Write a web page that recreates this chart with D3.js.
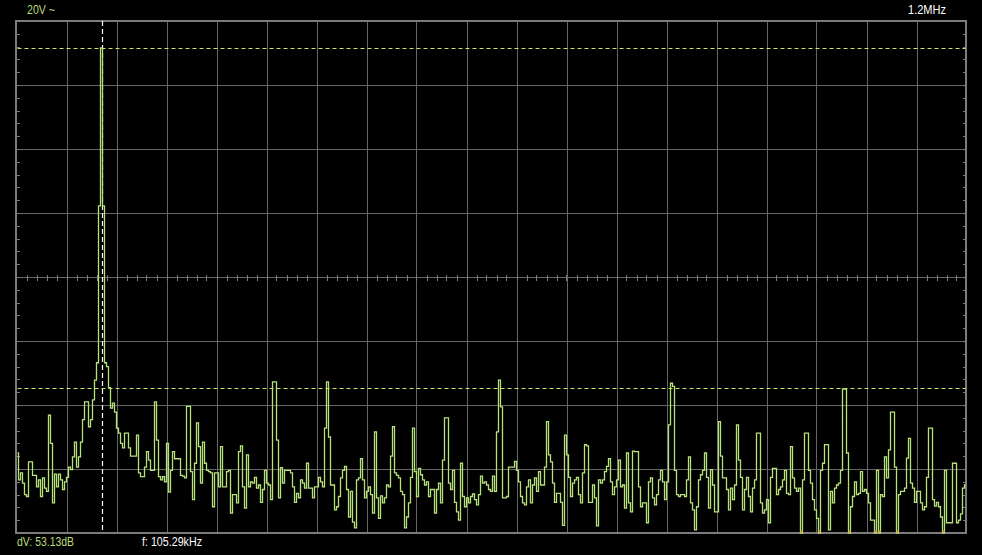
<html>
<head>
<script src="https://d3js.org/d3.v7.min.js"></script>
<style>
  body { margin: 0; background: #000; }
  .grid { stroke: #666666; stroke-width: 1; shape-rendering: crispEdges; }
  .frame { fill: none; stroke: #7c7c7c; stroke-width: 2; shape-rendering: crispEdges; }
  .tick { stroke: #7c7c7c; stroke-width: 1; shape-rendering: crispEdges; }
  .lbl { font-family: "Liberation Sans", Arial, sans-serif; font-size: 12.5px; }
</style>
</head>
<body>
<svg id="scope" width="982" height="555" style="background:#000"></svg>
<script>
// FFT view, 10 dB/div, 0..-80 dB, 19 horizontal divisions
const spanKHz = 1163.2;
const dbTop = 0, dbBottom = -80;
const peakDb = -4.2;
const deltaDb = 53.13;
const cursorFreq = 105.29;
const labels = { range: "20V ~", span: "1.2MHz", dv: "dV: 53.13dB", f: "f: 105.29kHz" };

// magnitude per bin (dB)
const spectrum = [
  -67.5,-71.7,-70.6,-72.2,-74,-74.3,-68.9,-68.9,-71,-71,-72.8,-71.7,-74.3,-71.4,-73,-73.5,-61.6,-66,-75.3,-70.8,
  -72.8,-70.8,-71.7,-73.2,-72,-71.3,-69.7,-70.1,-68.1,-65.8,-69.7,-68.1,-65.8,-62.3,-59.5,-59.5,-63.4,-62.3,-59.2,-56.1,
  -53.4,-28.9,-4.2,-28.9,-53.4,-54,-57.3,-60.5,-59.7,-61.1,-63.6,-64.4,-66,-66.7,-64.4,-64.4,-66.7,-68,-68,-68,
  -64.7,-70.6,-71.2,-71.2,-69.7,-67.3,-68.6,-70.2,-70.2,-59.5,-65.5,-71.2,-71.7,-71.2,-72,-66,-73.6,-70.2,-67.3,-68.4,
  -68.4,-68.4,-71,-71.1,-71.4,-60.2,-60.2,-70.4,-74.8,-69.1,-62.8,-66.5,-72.2,-65.8,-69.1,-70.2,-70.4,-70.6,-75.9,-70.6,
  -70.6,-72.8,-66.5,-72.8,-72.8,-70.4,-70.2,-76.9,-74,-74,-75.3,-67.3,-66.4,-72.8,-76.1,-67.8,-72.8,-72,-72.2,-71.3,
  -73,-72.5,-75.2,-73.2,-70.2,-72.2,-72.5,-74.8,-56.4,-56.4,-65.5,-74.5,-69.8,-72.2,-70.2,-70.2,-70.2,-70.6,-72.8,-75.2,
  -73.8,-74.5,-71.7,-72.2,-73,-69.1,-73,-73,-74.5,-72.8,-72.8,-71.3,-72,-72.8,-63.6,-56.4,-65,-72.5,-72.5,-76.4,
  -75.9,-74.3,-71.4,-70.2,-69.6,-73.2,-77.5,-73.5,-78.3,-79.2,-71.7,-71.4,-68.4,-71.7,-74.5,-73.5,-72.8,-74,-76.9,-64.2,
  -74.5,-77.7,-74.2,-75.3,-74.5,-72.5,-72.8,-68,-63.4,-70.6,-71,-71.4,-73.5,-74,-79.2,-77.5,-75.3,-71.3,-63.6,-70.4,
  -74.3,-69.9,-70.9,-71.7,-72.5,-72,-74.3,-73.2,-73.2,-76.9,-73.2,-72.2,-75.3,-68.6,-62,-62,-72.2,-73.2,-70.2,-75.2,
  -76.7,-78,-69.1,-74.3,-75.9,-74.5,-75.3,-74.3,-73.9,-74.8,-75.6,-74,-71.1,-72.2,-72,-72.5,-73.2,-73.5,-71.1,-73.5,
  -64.2,-56.1,-60.3,-74.5,-74.5,-74.3,-69.7,-69.7,-69.7,-68.8,-70.2,-72,-74.3,-75.3,-75.6,-72.8,-71.7,-75.3,-72.5,-71.4,
  -73.5,-70.4,-72.5,-72.5,-69.7,-62.6,-67.8,-68.9,-72.2,-75.2,-73.8,-73.8,-75.2,-78.8,-64.7,-67.8,-71.3,-74.3,-72.2,-71.7,
  -71.3,-74,-75.3,-70.6,-66.2,-66.4,-75.2,-75.2,-72.5,-74.5,-78.9,-71.7,-72.2,-71.7,-70.4,-69.6,-68.4,-72,-74,-72.8,
  -71.7,-68.6,-72.8,-72.5,-76.1,-67.5,-75.3,-76.7,-67.2,-67.3,-67.3,-72.8,-75.9,-75.3,-75.3,-78.4,-72,-71.4,-74.5,-75.6,
  -74,-71.7,-70.2,-72,-74.8,-72,-63.1,-56.6,-57.1,-70.2,-74,-74.3,-74,-74,-74.3,-71.7,-68.1,-75.3,-76.4,-79.5,
  -75.9,-71.7,-70.9,-70.2,-67.5,-71.3,-76.1,-70.1,-72.5,-76.7,-76.7,-62.6,-68,-71.4,-71.4,-73.2,-76.4,-73,-74.8,-72.5,
  -63.1,-68.6,-71.3,-76.4,-73.2,-71.3,-74.3,-76.7,-73,-71.7,-64.4,-64.4,-75.3,-76.9,-76.4,-74.8,-78.4,-71.3,-69.9,-69.9,
  -74,-73.2,-72.8,-71.7,-70.2,-73.8,-74,-66.5,-71.4,-73,-73.5,-73,-80,-71.7,-64.4,-64.4,-70.2,-72.2,-74.8,-76.4,
  -77.7,-80,-70.2,-69.1,-66.2,-66.2,-79.5,-73.5,-75.3,-73,-72.5,-72.2,-70.2,-57.5,-57.5,-67.5,-80,-75.9,-74.3,-72,
  -74,-73.8,-70.4,-73.5,-73.2,-73.8,-75.3,-78,-78,-80,-70.2,-80,-74,-74.3,-68.1,-71.4,-67,-61.1,-61.1,-69.7,
  -80,-74,-73.5,-73.5,-73,-68.3,-65.2,-72.2,-73,-75.2,-73.5,-73.5,-75.3,-76.4,-75.9,-71.3,-63.6,-63.6,-74.8,-75.8,
  -75.2,-75.9,-77.5,-80,-70.2,-78.4,-78.4,-78.4,-69.1,-69.1,-78.4,-78,-77,-73,-72.5
];

const svg = d3.select("#scope");
const plotL = 16.5, plotR = 966.5, plotT = 21, plotB = 533;
const binWidth = spanKHz / spectrum.length;

const x = d3.scaleLinear().domain([0, spanKHz]).range([plotL, plotR]);
const y = d3.scaleLinear().domain([dbBottom, dbTop]).range([plotB, plotT]);

const g = svg.append("g");

// grid
const xDivs = d3.range(1, 19).map(k => k * spanKHz / 19);
g.selectAll("line.vg").data(xDivs).join("line")
  .attr("class", "grid")
  .attr("x1", d => Math.round(x(d)) + 0.5).attr("x2", d => Math.round(x(d)) + 0.5)
  .attr("y1", plotT).attr("y2", plotB);

g.selectAll("line.hg").data(d3.range(dbBottom + 10, dbTop, 10)).join("line")
  .attr("class", "grid")
  .attr("x1", plotL).attr("x2", plotR)
  .attr("y1", d => Math.round(y(d)) + 0.5).attr("y2", d => Math.round(y(d)) + 0.5);

// minor ticks on center line
const centerY = Math.round(y(-40)) + 0.5;
g.selectAll("line.ct").data(d3.range(1, 95).map(k => k * spanKHz / 95)).join("line")
  .attr("class", "tick")
  .attr("x1", d => Math.round(x(d)) + 0.5).attr("x2", d => Math.round(x(d)) + 0.5)
  .attr("y1", centerY - 3).attr("y2", centerY + 3);

// minor ticks on left / right frame
const yMinor = d3.range(dbBottom + 2, dbTop, 2);
g.selectAll("line.lt").data(yMinor).join("line")
  .attr("class", "tick")
  .attr("x1", plotL).attr("x2", plotL + 3.5)
  .attr("y1", d => Math.round(y(d)) + 0.5).attr("y2", d => Math.round(y(d)) + 0.5);
g.selectAll("line.rt").data(yMinor).join("line")
  .attr("class", "tick")
  .attr("x1", plotR - 3.5).attr("x2", plotR)
  .attr("y1", d => Math.round(y(d)) + 0.5).attr("y2", d => Math.round(y(d)) + 0.5);

// frame
g.append("rect").attr("class", "frame")
  .attr("x", plotL - 0.5).attr("y", plotT - 0.5)
  .attr("width", plotR - plotL).attr("height", plotB - plotT);

// cursors
[peakDb, peakDb - deltaDb].forEach(v => {
  g.append("line")
    .attr("x1", plotL + 1).attr("x2", plotR - 1)
    .attr("y1", Math.round(y(v)) + 0.5).attr("y2", Math.round(y(v)) + 0.5)
    .attr("stroke", "#cde66a").attr("stroke-width", 1)
    .attr("stroke-dasharray", "4,3");
});
g.append("line")
  .attr("x1", Math.round(x(cursorFreq)) + 0.5).attr("x2", Math.round(x(cursorFreq)) + 0.5)
  .attr("y1", plotT).attr("y2", plotB)
  .attr("stroke", "#ffffff").attr("stroke-width", 1.2)
  .attr("stroke-dasharray", "5,3");

// trace
const line = d3.line()
  .x((d, i) => x((i + 0.5) * binWidth))
  .y(d => y(Math.max(d, dbBottom)))
  .curve(d3.curveStep);

g.append("path")
  .datum(spectrum)
  .attr("d", line)
  .attr("fill", "none")
  .attr("stroke", "#b6e27a")
  .attr("stroke-width", 1.3);

// clipped bins in orange at the floor
g.selectAll("line.clip").data(spectrum.map((d, i) => [d, i]).filter(d => d[0] <= -79.9)).join("line")
  .attr("x1", d => x(d[1] * binWidth)).attr("x2", d => x((d[1] + 1) * binWidth))
  .attr("y1", plotB - 1.5).attr("y2", plotB - 1.5)
  .attr("stroke", "#e08a1c").attr("stroke-width", 2);

// labels (narrow screen font -> squeeze to measured widths)
function label(txt, px, py, w, color) {
  svg.append("text").attr("class", "lbl")
    .attr("x", px).attr("y", py).attr("fill", color)
    .attr("textLength", w).attr("lengthAdjust", "spacingAndGlyphs")
    .text(txt);
}
label(labels.range, 27, 14, 28, "#b8dc7a");
label(labels.span, 908, 14, 38, "#ffffff");
label(labels.dv, 17, 546, 57, "#b8dc7a");
label(labels.f, 142, 546, 60, "#ffffff");
</script>
</body>
</html>
